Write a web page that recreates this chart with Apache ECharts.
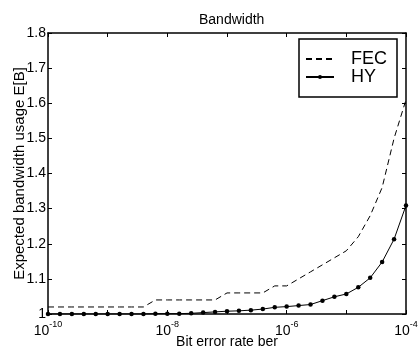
<!DOCTYPE html>
<html>
<head>
<meta charset="utf-8">
<script src="https://cdn.jsdelivr.net/npm/echarts@6/dist/echarts.min.js"></script>
<style>html,body{margin:0;padding:0;background:#fff;}#c{width:418px;height:350px;}</style>
</head>
<body>
<div id="c"></div>
<script>
// Data
const berExp = [-10, -9.8, -9.6, -9.4, -9.2, -9.0, -8.8, -8.6, -8.4, -8.2, -8.0,
  -7.8, -7.6, -7.4, -7.2, -7.0, -6.8, -6.6, -6.4, -6.2, -6.0,
  -5.8, -5.6, -5.4, -5.2, -5.0, -4.8, -4.6, -4.4, -4.2, -4.0];
const fecValues = [1.02, 1.02, 1.02, 1.02, 1.02, 1.02, 1.02, 1.02, 1.02, 1.04, 1.04,
  1.04, 1.04, 1.04, 1.04, 1.06, 1.06, 1.06, 1.06, 1.08, 1.08,
  1.10, 1.12, 1.14, 1.16, 1.18, 1.22, 1.28, 1.36, 1.50, 1.61];
const hyValues = [1.000, 1.000, 1.000, 1.000, 1.000, 1.000, 1.000, 1.000, 1.000, 1.001, 1.001,
  1.001, 1.002, 1.004, 1.006, 1.008, 1.009, 1.011, 1.014, 1.019, 1.021,
  1.024, 1.027, 1.038, 1.049, 1.057, 1.076, 1.103, 1.148, 1.213, 1.309];
const seriesNames = ['FEC', 'HY'];
const titleText = 'Bandwidth';
const xName = 'Bit error rate ber';
const yName = 'Expected bandwidth usage E[B]';

const ber = berExp.map(e => Math.pow(10, e));
const FONT = "'Liberation Sans', Arial, Helvetica, sans-serif";

const chart = echarts.init(document.getElementById('c'), null, {renderer: 'canvas'});
const xLabelFmt = function (v) {
  const e = Math.round(Math.log10(v));
  if (e % 2 !== 0) return '';
  return '{b|10}{s|' + e + '}';
};
const lineW = 1.5;
chart.setOption({
  animation: false,
  backgroundColor: '#fff',
  textStyle: {fontFamily: FONT, color: '#000'},
  title: {
    text: titleText, left: 194, top: 8,
    textStyle: {fontFamily: FONT, fontSize: 14, fontWeight: 'normal', color: '#000'}
  },
  grid: {left: 48, right: 12, top: 33, bottom: 36, containLabel: false, outerBoundsMode: 'none'},
  legend: {
    left: 299, top: 39, orient: 'vertical',
    selectedMode: false,
    data: [
      {name: seriesNames[0], itemStyle: {color: 'rgba(0,0,0,0)', borderWidth: 0, opacity: 0}},
      {name: seriesNames[1]}
    ],
    backgroundColor: '#fff', borderColor: '#000', borderWidth: 1.5,
    padding: [11, 10, 11, 6],
    itemGap: 0, itemWidth: 28, itemHeight: 5,
    textStyle: {fontFamily: FONT, fontSize: 18, color: '#000', lineHeight: 16, padding: [0, 0, 0, 12]}
  },
  xAxis: [{
    type: 'log', logBase: 10, min: 1e-10, max: 1e-4,
    name: xName, nameLocation: 'middle', nameGap: 21, nameMoveOverlap: false,
    nameTextStyle: {fontFamily: FONT, fontSize: 14, color: '#000'},
    axisLine: {lineStyle: {color: '#000', width: lineW}},
    axisTick: {inside: true, length: 4, lineStyle: {color: '#000', width: 1}},
    splitLine: {show: false},
    minorTick: {show: false},
    axisLabel: {
      formatter: xLabelFmt, margin: 6, color: '#000',
      rich: {
        b: {fontFamily: FONT, fontSize: 14, lineHeight: 18, verticalAlign: 'bottom', color: '#000'},
        s: {fontFamily: FONT, fontSize: 9, lineHeight: 10, verticalAlign: 'top', color: '#000'}
      }
    }
  }, {
    type: 'log', logBase: 10, min: 1e-10, max: 1e-4, position: 'top',
    axisLine: {lineStyle: {color: '#000', width: lineW}},
    axisTick: {inside: true, length: 4, lineStyle: {color: '#000', width: 1}},
    axisLabel: {show: false}, splitLine: {show: false}
  }],
  yAxis: [{
    type: 'value', min: 1, max: 1.8, interval: 0.1,
    name: yName, nameLocation: 'middle', nameGap: 21, nameMoveOverlap: false,
    nameTextStyle: {fontFamily: FONT, fontSize: 15, color: '#000'},
    axisLine: {show: true, lineStyle: {color: '#000', width: lineW}},
    axisTick: {show: true, inside: true, length: 4, lineStyle: {color: '#000', width: 1}},
    splitLine: {show: false},
    axisLabel: {fontFamily: FONT, fontSize: 14, color: '#000', margin: 2}
  }, {
    type: 'value', min: 1, max: 1.8, interval: 0.1, position: 'right',
    axisLine: {show: true, lineStyle: {color: '#000', width: lineW}},
    axisTick: {show: true, inside: true, length: 4, lineStyle: {color: '#000', width: 1}},
    splitLine: {show: false}, axisLabel: {show: false}
  }],
  series: [{
    name: seriesNames[0], type: 'line',
    data: ber.map((x, i) => [x, fecValues[i]]),
    symbol: 'none', color: '#000',
    lineStyle: {color: '#000', width: 1, type: [6, 4]},
    z: 3
  }, {
    name: seriesNames[1], type: 'line',
    data: ber.map((x, i) => [x, hyValues[i]]),
    symbol: 'circle', symbolSize: 4.5, color: '#000',
    itemStyle: {color: '#000'},
    lineStyle: {color: '#000', width: 1},
    z: 4
  }]
});
</script>
</body>
</html>
